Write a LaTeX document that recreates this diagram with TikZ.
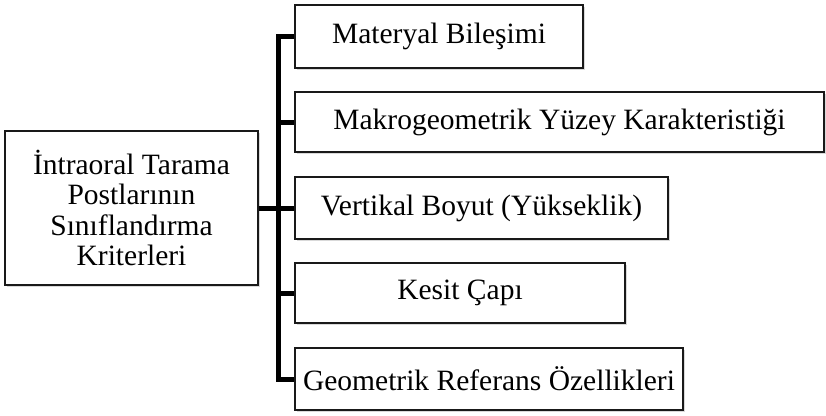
\documentclass[tikz,border=0pt]{standalone}
\usepackage{fontspec}
\setmainfont{Liberation Serif}
\usetikzlibrary{shadows}
\begin{document}
\begin{tikzpicture}[x=1pt,y=-1pt,
  box/.style={draw=black!90, line width=1.4pt, fill=white, inner sep=0pt,
    drop shadow={opacity=0.3, shadow xshift=1.5pt, shadow yshift=-2pt},
    font=\fontsize{29.5}{30.5}\selectfont, align=center},
  bus/.style={line width=5pt, black}]
\useasboundingbox (0,0) rectangle (826,415);
\node[box, minimum width=253pt, minimum height=154pt] (L) at (131.5,208)
  {İntraoral Tarama\\Postlarının\\Sınıflandırma\\Kriterleri};
\node[box, minimum width=288pt, minimum height=63pt] (B1) at (439,36.5) {Materyal Bileşimi};
\node[box, minimum width=529pt, minimum height=60pt] (B2) at (559.5,122) {Makrogeometrik Yüzey Karakteristiği};
\node[box, minimum width=373pt, minimum height=62pt] (B3) at (481.5,208) {Vertikal Boyut (Yükseklik)};
\node[box, minimum width=330pt, minimum height=60pt] (B4) at (460,293) {Kesit Çapı};
\node[box, minimum width=388pt, minimum height=62pt] (B5) at (489,379) {Geometrik Referans Özellikleri};
\coordinate (bx) at (278,0);
\draw[bus] (B1.west) -- (B1.west -| bx) -- (B5.west -| bx) -- (B5.west);
\draw[bus] (B2.west -| bx) -- (B2.west);
\draw[bus] (B3.west -| bx) -- (B3.west);
\draw[bus] (B4.west -| bx) -- (B4.west);
\draw[bus] (L.east) -- (L.east -| bx);
\end{tikzpicture}
\end{document}
